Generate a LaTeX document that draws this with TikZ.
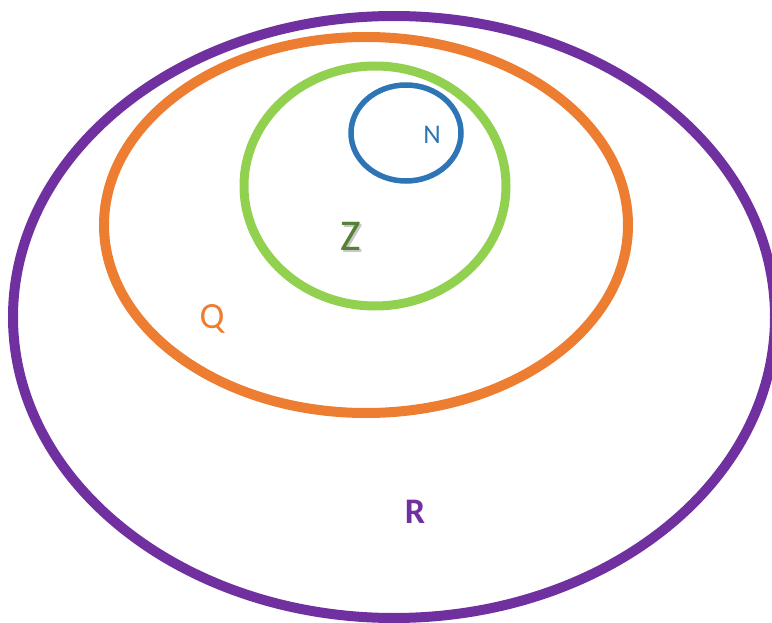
\documentclass[tikz,border=0pt]{standalone}
\usepackage{fontspec}
\setmainfont{Carlito}
\definecolor{cR}{HTML}{7030A0}
\definecolor{cQ}{HTML}{ED7D31}
\definecolor{cZ}{HTML}{92D050}
\definecolor{cZt}{HTML}{548235}
\definecolor{cN}{HTML}{2E75B6}
\begin{document}
\begin{tikzpicture}[x=1pt,y=-1pt,
  setline/.style={line width=#1},
  lab/.style={inner sep=0pt}]
\useasboundingbox (0,0) rectangle (772,623);
\clip (0,0) rectangle (772,623);
\draw[cR, setline=10pt] (394,317) ellipse [x radius=381, y radius=301];
\draw[cQ, setline=10pt] (366,225) ellipse [x radius=262, y radius=188];
\draw[cZ, setline=9pt] (375,186) ellipse [x radius=131, y radius=120];
\draw[cN, setline=5.5pt] (406,133) ellipse [x radius=55, y radius=48];
\node[lab, text=cN, font=\fontsize{27}{30}\selectfont] (N) at (432,135) {N};
\node[lab, text=black!22, font=\fontsize{44}{48}\selectfont] (Zs) at (353,238.5) {Z};
\node[lab, text=cZt, font=\fontsize{44}{48}\selectfont] (Z) at (351,236) {Z};
\node[lab, text=cQ, font=\fontsize{37}{40}\selectfont] (Q) at (212,319) {Q};
\node[lab, text=cR, font=\fontsize{36}{40}\selectfont\bfseries] (R) at (415,512) {R};
\end{tikzpicture}
\end{document}
